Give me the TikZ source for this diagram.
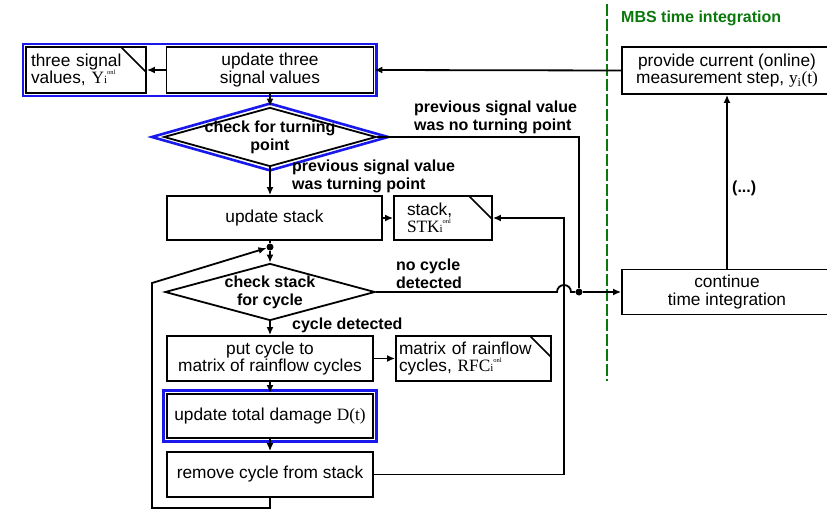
\documentclass[tikz,border=0pt]{standalone}
\usepackage{fontspec}
\setmainfont{Liberation Sans}
\newfontfamily\serf{Liberation Serif}
\usetikzlibrary{arrows.meta,shapes.geometric,fit,calc}
\definecolor{frameblue}{RGB}{25,25,235}
\definecolor{mbsgreen}{RGB}{10,120,10}
\newcommand\bodyfont{\fontsize{17.3}{17.5}\selectfont}
\newcommand\labfont{\fontsize{16}{18}\selectfont\bfseries}
\newcommand\onlsym[1]{{\serf #1\fontsize{11}{11}\selectfont i\raisebox{9pt}{\fontsize{6.5}{6.5}\selectfont onl}}}
\begin{document}
\begin{tikzpicture}[x=1pt,y=-1pt,
  box/.style={draw, line width=1.8pt, rectangle, inner sep=0pt, align=center, font=\bodyfont},
  docbox/.style={box, align=left, path picture={\draw[line width=1.5pt] ([xshift=-#1]path picture bounding box.north east) -- ([yshift=-#1]path picture bounding box.north east);}},
  docbox/.default=24pt,
  dia/.style={draw, diamond, line width=1.8pt, inner sep=-4pt, aspect=3.6, font=\labfont, align=center},
  lab/.style={inner sep=0pt, font=\labfont, align=left, anchor=west},
  conn/.style={line width=1.8pt, -{Latex[length=8pt,width=7pt]}},
  plain/.style={line width=1.8pt},
  dot/.style={circle, fill, inner sep=0pt, minimum size=7pt},
  bluefr/.style={draw=frameblue, line width=2.6pt},
]
\useasboundingbox (0,0) rectangle (827,513);

% top row
\node[docbox=25pt, minimum width=120, minimum height=46, text width=110] (sig) at (86,70) {three signal\\values, \onlsym{Y}};
\node[box, minimum width=207, minimum height=46] (upd) at (270,70) {update three\\signal values};
\node[bluefr, fit=(sig)(upd), inner sep=2pt] (grp) {};

% diamond 1
\node[dia, minimum width=209, minimum height=58] (d1) at (270,137) {check for turning\\point};
\draw[bluefr] ([xshift=-11pt]d1.west) -- ([yshift=3pt]d1.north) -- ([xshift=11pt]d1.east) -- ([yshift=-3pt]d1.south) -- cycle;

% update stack and stack
\node[box, minimum width=215, minimum height=44] (upst) at (274.5,218) {update stack};
\node[docbox=23pt, minimum width=98, minimum height=44, text width=72] (stk) at (443,218) {stack,\\\onlsym{STK}};

\node[dot] (j1) at (270,247) {};

% diamond 2
\node[dia, minimum width=210, minimum height=57] (d2) at (270,292) {check stack\\for cycle};

% lower boxes
\node[box, minimum width=206, minimum height=45] (put) at (270,358.5) {put cycle to\\matrix of rainflow cycles};
\node[docbox=21pt, minimum width=155, minimum height=45, text width=149] (mat) at (473.5,358.5) {matrix of rainflow\\cycles, \onlsym{RFC}};
\node[box, minimum width=206, minimum height=44] (dmg) at (270,416) {update total damage {\serf D(t)}};
\node[bluefr, fit=(dmg), inner sep=2.5pt] (dmgfr) {};
\node[box, minimum width=206, minimum height=45] (rem) at (270,474.5) {remove cycle from stack};

% right side
\draw[mbsgreen, line width=2.2pt, dash pattern=on 12pt off 3pt] (607,4) -- (607,381);
\node[lab, text=mbsgreen] (mbs) at (621,18) {MBS time integration};
\node[box, minimum width=210, minimum height=47] (prov) at (727,70.5) {provide current (online)\\measurement step, {\serf y\textsubscript{i}(t)}};
\node[box, minimum width=210, minimum height=45] (cont) at (727,292) {continue\\time integration};
\node[dot] (j2) at (579,292) {};

% labels
\node[lab] (l1) at (414,117) {previous signal value\\was no turning point};
\node[lab] (l2) at (292,176) {previous signal value\\was turning point};
\node[lab] (l3) at (396,274) {no cycle\\detected};
\node[lab] (l4) at (292,325) {cycle detected};
\node[lab] (l5) at (732,188) {(...)};

% helper coordinates
\coordinate (lb) at (152,508);
\coordinate (lt) at (152,283);
\coordinate (rb) at (564,475);
\coordinate (hopL) at (557,292);

% connectors
\draw[conn] (prov.west) -- (upd.east);
\draw[conn] (upd.west) -- (sig.east);
\draw[conn] (upd.south) -- (d1.north);
\draw[plain] (d1.east) -- (d1.east -| j2) -- (j2);
\draw[conn] (d1.south) -- (d1.south |- upst.north);
\draw[conn] (upst.east) -- (stk.west);
\draw[plain] (j1 |- upst.south) -- (j1);
\draw[conn] (j1) -- (d2.north);
\draw[plain] (d2.east) -- (hopL) arc[start angle=180, end angle=0, radius=7pt] -- (j2);
\draw[conn] (j2) -- (cont.west);
\draw[conn] (cont.north) -- (cont.north |- prov.south);
\draw[conn] (d2.south) -- (put.north);
\draw[conn] (put.east) -- (mat.west);
\draw[conn] (put.south) -- (dmg.north);
\draw[conn] (dmg.south) -- (rem.north);
\draw[conn] (rem.south) -- (rem.south |- lb) -- (lb) -- (lt) -- (j1);
\draw[conn] (rem.east) -- (rem.east -| rb) -- (rb |- stk.east) -- (stk.east);
\end{tikzpicture}
\end{document}
